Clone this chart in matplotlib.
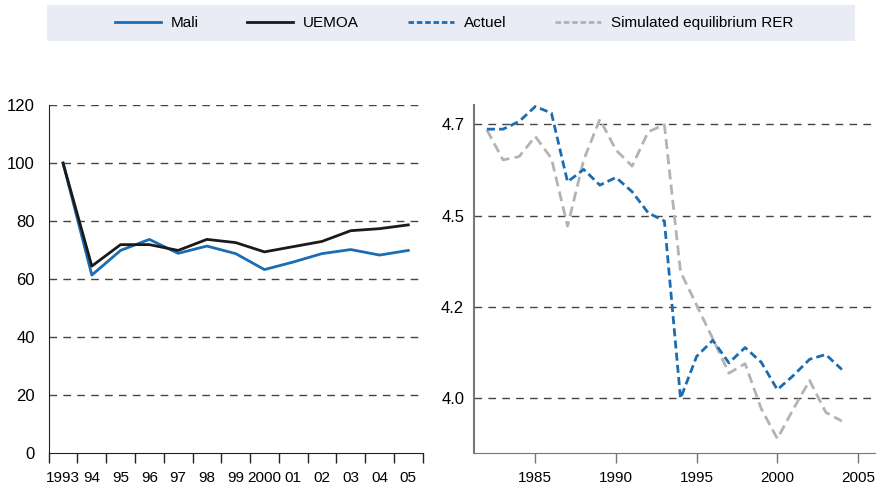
import matplotlib.pyplot as plt
from matplotlib.patches import Rectangle
from matplotlib.lines import Line2D

plt.rcParams['font.family'] = ['Liberation Sans', 'DejaVu Sans']

# left panel: index 1993 = 100
year_labels = ['1993', '94', '95', '96', '97', '98', '99', '2000', '01', '02', '03', '04', '05']
mali = [100, 61.4, 69.9, 73.7, 68.9, 71.4, 68.8, 63.3, 65.9, 68.8, 70.2, 68.3, 69.9]
uemoa = [100, 64.5, 71.9, 71.9, 69.9, 73.7, 72.6, 69.4, 71.2, 73.0, 76.7, 77.4, 78.7]

# right panel: log real exchange rate
years_right = list(range(1982, 2005))
actuel = [4.736, 4.736, 4.757, 4.798, 4.780, 4.592, 4.626, 4.583, 4.604, 4.565, 4.507, 4.485,
          4.000, 4.115, 4.159, 4.097, 4.139, 4.099, 4.024, 4.063, 4.107, 4.120, 4.079]
simulated = [4.734, 4.652, 4.661, 4.716, 4.656, 4.471, 4.652, 4.763, 4.679, 4.635, 4.729, 4.748,
             4.346, 4.255, 4.163, 4.069, 4.095, 3.972, 3.890, 3.972, 4.049, 3.962, 3.938]
right_ticks = [4.0, 4.25, 4.5, 4.75]
right_tick_labels = ['4.0', '4.2', '4.5', '4.7']

blue = '#1b6cb0'
black = '#1a1a1a'
grey = '#b3b3b5'
gridc = '#444444'
grid_dash = (0, (5.5, 4.5))

fig = plt.figure(figsize=(8.8, 4.88), dpi=100)

# legend band
fig.patches.append(Rectangle((47/880, 1 - 41/488), (855-47)/880, 36/488,
                             transform=fig.transFigure, facecolor='#e9ecf4',
                             edgecolor='none', zorder=0))

ax1 = fig.add_axes([0.0553, 0.0711, 0.4250, 0.7137])
ax2 = fig.add_axes([0.5386, 0.0711, 0.4557, 0.7137])

# category axis: points at centres, ticks at boundaries
xpos = list(range(len(year_labels)))
ax1.plot(xpos, mali, color=blue, lw=2, zorder=3)
ax1.plot(xpos, uemoa, color=black, lw=2, zorder=3)
ax1.set_xlim(-0.5, len(year_labels) - 0.5)
ax1.set_ylim(0, 120)
ax1.set_yticks(range(0, 121, 20))
ax1.set_xticks([i - 0.5 for i in range(len(year_labels) + 1)])
ax1.set_xticklabels([])
ax1.set_xticks(xpos, minor=True)
ax1.set_xticklabels(year_labels, minor=True)
for v in range(20, 121, 20):
    ax1.axhline(v, color=gridc, lw=1, ls=grid_dash, zorder=1)
for s in ['top', 'right']:
    ax1.spines[s].set_visible(False)
ax1.spines['left'].set_color('#222222')
ax1.spines['bottom'].set_color('#222222')
ax1.tick_params(axis='x', which='major', length=7, width=1, color='#222222')
ax1.tick_params(axis='x', which='minor', length=0, labelsize=11, pad=13)
ax1.tick_params(axis='y', length=0, labelsize=12, pad=10)

ax2.plot(years_right, actuel, color=blue, lw=2, ls=(0, (2.9, 1.5)), zorder=3)
ax2.plot(years_right, simulated, color=grey, lw=2, ls=(0, (3.6, 1.9)), zorder=2)
ax2.set_xlim(1981.2, 2006.05)
ax2.set_ylim(3.85, 4.802)
ax2.set_yticks(right_ticks)
ax2.set_yticklabels(right_tick_labels)
ax2.set_xticks([1985, 1990, 1995, 2000, 2005])
for v in right_ticks:
    ax2.axhline(v, color=gridc, lw=1, ls=grid_dash, zorder=1)
for s in ['top', 'right']:
    ax2.spines[s].set_visible(False)
ax2.spines['left'].set_color('#777777')
ax2.spines['bottom'].set_color('#777777')
ax2.spines['left'].set_linewidth(1.5)
ax2.tick_params(axis='x', length=7, width=1, color='#777777', labelsize=11, pad=6)
ax2.tick_params(axis='y', length=0, labelsize=12, pad=7)

handles = [Line2D([], [], color=blue, lw=2),
           Line2D([], [], color=black, lw=2),
           Line2D([], [], color=blue, lw=2, ls=(0, (2, 1))),
           Line2D([], [], color=grey, lw=2, ls=(0, (2, 1)))]
labels = ['Mali', 'UEMOA', 'Actuel', 'Simulated equilibrium RER']
fig.legend(handles, labels, loc='center', bbox_to_anchor=(454/880, 1 - 23/488), ncol=4,
           frameon=False, fontsize=11, handlelength=3.0, columnspacing=3.2,
           handletextpad=0.65)

fig.savefig('out.png', dpi=100)
